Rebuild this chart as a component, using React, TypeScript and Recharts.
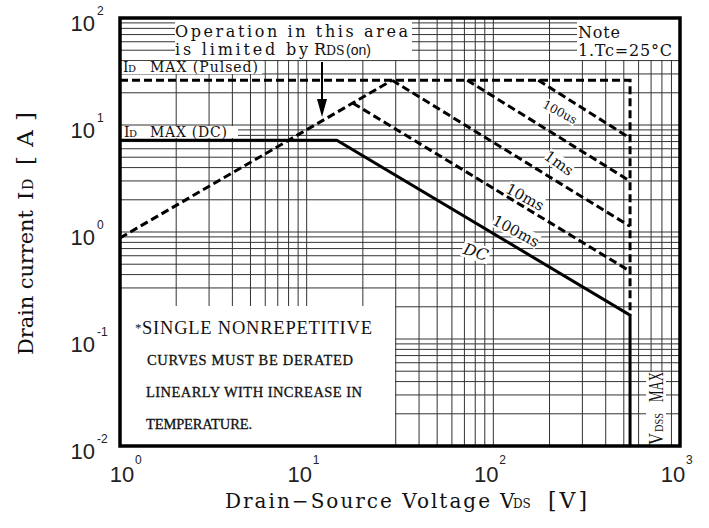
import React from 'react';
import { ComposedChart, Line, XAxis, YAxis, CartesianGrid, ReferenceArea } from 'recharts';

// Grid / tick values (log decades with 2..9 subdivisions)
const gridV = [1, 2, 3, 4, 5, 6, 7, 8, 9, 10, 20, 30, 40, 50, 60, 70, 80, 90, 100, 200, 300, 400, 500, 600, 700, 800, 900, 1000];
const gridI = [0.01, 0.02, 0.03, 0.04, 0.05, 0.06, 0.07, 0.08, 0.09, 0.1, 0.2, 0.3, 0.4, 0.5, 0.6, 0.7, 0.8, 0.9, 1, 2, 3, 4, 5, 6, 7, 8, 9, 10, 20, 30, 40, 50, 60, 70, 80, 90, 100];
const xDecades = [1, 10, 100, 1000];
const xExps = ['0', '1', '2', '3'];
const yDecades = [0.01, 0.1, 1, 10, 100];
const yExps = ['-2', '-1', '0', '1', '2'];

// Series (VDS [V], ID [A])
const pulsedV = [1, 540, 540];
const pulsedI = [26.2, 26.2, 0.167];
const rdsV = [1, 28.7];
const rdsI = [0.88, 26.2];
const us100V = [174, 540];
const us100I = [26.2, 7.54];
const ms1V = [72.4, 540];
const ms1I = [26.2, 2.99];
const ms10V = [28.7, 540];
const ms10I = [26.2, 1.13];
const ms100V = [17.7, 540];
const ms100I = [16.0, 0.43];
const dcV = [1, 14.5, 540, 540];
const dcI = [7.22, 7.22, 0.167, 0.01];

const zip = (v: number[], i: number[]) => v.map((x, k) => ({ v: x, i: i[k] }));

const SERIF = 'DejaVu Serif';
const TSERIF = 'Liberation Serif';
const SANS = 'Liberation Sans';

const XTick = (props: any) => {
  const { x, payload } = props;
  const idx = xDecades.indexOf(payload.value);
  if (idx < 0) return <g />;
  const off = payload.value === 1 ? 2 : -7;
  return (
    <g>
      <text x={x + off} y={482} fontSize={22} fontFamily={SANS} fill="#222" textAnchor="middle">10</text>
      <text x={x + off + 13} y={464} fontSize={12} fontFamily={SANS} fill="#222">{xExps[idx]}</text>
    </g>
  );
};

const YTick = (props: any) => {
  const { y, payload } = props;
  const idx = yDecades.indexOf(payload.value);
  if (idx < 0) return <g />;
  return (
    <g>
      <text x={95} y={y + 13} fontSize={22} fontFamily={SANS} fill="#222" textAnchor="end">10</text>
      <text x={97} y={y - 3} fontSize={12} fontFamily={SANS} fill="#222">{yExps[idx]}</text>
    </g>
  );
};

const CurveLabel = ({ cx, cy, angle, text, size, w, h, italic }: any) => (
  <g transform={`translate(${cx},${cy}) rotate(${angle})`}>
    <rect x={-w / 2} y={-h / 2} width={w} height={h} fill="#fff" />
    <text x={0} y={size * 0.35} textAnchor="middle" fontSize={size} fontFamily={SERIF} fontStyle={italic ? 'italic' : 'normal'} fill="#111">{text}</text>
  </g>
);

const dashed = { stroke: '#000', strokeWidth: 3, strokeDasharray: '8 4', dot: false, activeDot: false, isAnimationActive: false, type: 'linear' as const, dataKey: 'i' };

export default function App() {
  return (
    <div style={{ position: 'absolute', left: 0, top: 0, background: '#fff' }}>
      <ComposedChart width={709} height={528} margin={{ top: 18, right: 29, bottom: 0, left: 0 }}>
        <CartesianGrid stroke="#333" strokeWidth={1} />
        <XAxis type="number" dataKey="v" scale="log" domain={[1, 1000]} ticks={gridV} interval={0} allowDataOverflow height={82} tickLine={false} axisLine={false} tick={<XTick />} />
        <YAxis type="number" dataKey="i" scale="log" domain={[0.01, 100]} ticks={gridI} interval={0} allowDataOverflow width={120} tickLine={false} axisLine={false} tick={<YTick />} />

        <g fill="#fff">
          {/* white annotation boxes */}
          <rect x={175} y={19} width={237} height={41} />
          <rect x={577} y={19} width={102} height={41} />
          <rect x={121} y={61} width={141} height={13} />
          <rect x={121} y={126} width={117} height={12} />
          <rect x={121} y={306} width={274} height={139} />
          <rect x={646} y={372} width={20} height={73} />
        </g>

        <g>
          <CurveLabel cx={560} cy={112} angle={28} text="100us" size={12} w={36} h={13} />
          <CurveLabel cx={559} cy={163} angle={35} text="1ms" size={15} w={30} h={15} />
          <CurveLabel cx={525} cy={197} angle={28} text="10ms" size={15} w={40} h={15} />
          <CurveLabel cx={516} cy={231} angle={28} text="100ms" size={15} w={50} h={15} />
          <CurveLabel cx={476} cy={252} angle={18} text="DC" size={16} w={28} h={17} italic />
        </g>

        <Line {...dashed} data={zip(pulsedV, pulsedI)} />
        <Line {...dashed} data={zip(rdsV, rdsI)} />
        <Line {...dashed} data={zip(us100V, us100I)} />
        <Line {...dashed} data={zip(ms1V, ms1I)} />
        <Line {...dashed} data={zip(ms10V, ms10I)} />
        <Line {...dashed} data={zip(ms100V, ms100I)} />
        <Line type="linear" dataKey="i" data={zip(dcV, dcI)} stroke="#000" strokeWidth={3} dot={false} activeDot={false} isAnimationActive={false} />

        <ReferenceArea x1={1} x2={1000} y1={0.01} y2={100} fill="none" stroke="#000" strokeWidth={3.5} />

        <g fill="#111">
          {/* arrow */}
          <line x1={322} y1={62} x2={322} y2={100} stroke="#000" strokeWidth={2} />
          <path d="M317,99 L327,99 L322,117 Z" fill="#000" />

          <text x={175} y={37} fontSize={16} fontFamily={SERIF} textLength={233} lengthAdjust="spacing">Operation in this area</text>
          <text x={175} y={55} fontSize={16} fontFamily={SERIF} textLength={133} lengthAdjust="spacing">is limited by</text>
          <text x={314} y={55} fontSize={16} fontFamily={SERIF}>R</text>
          <text x={326} y={55} fontSize={12.5} fontFamily={SERIF}>DS</text>
          <text x={346} y={55} fontSize={14} fontFamily={SANS}>(on)</text>

          <text x={578} y={38} fontSize={16} fontFamily={SERIF} textLength={42} lengthAdjust="spacing">Note</text>
          <text x={578} y={56} fontSize={16} fontFamily={SERIF} textLength={94} lengthAdjust="spacing">1.Tc=25°C</text>

          <text x={123} y={72} fontSize={14} fontFamily={SERIF}>I</text>
          <text x={128} y={72} fontSize={10} fontFamily={SERIF}>D</text>
          <text x={150} y={72} fontSize={14} fontFamily={SERIF} textLength={108} lengthAdjust="spacing">MAX (Pulsed)</text>

          <text x={124} y={137} fontSize={14} fontFamily={SERIF}>I</text>
          <text x={129} y={137} fontSize={10} fontFamily={SERIF}>D</text>
          <text x={150} y={137} fontSize={14} fontFamily={SERIF} textLength={77} lengthAdjust="spacing">MAX (DC)</text>

          <text x={135} y={332} fontSize={13} fontFamily={TSERIF}>*</text>
          <text x={142} y={334} fontSize={18.5} fontFamily={TSERIF} textLength={230} lengthAdjust="spacing">SINGLE NONREPETITIVE</text>
          <text x={147} y={365} fontSize={14.5} fontFamily={TSERIF} textLength={206} lengthAdjust="spacing" stroke="#111" strokeWidth={0.3}>CURVES MUST BE DERATED</text>
          <text x={146} y={397} fontSize={14.5} fontFamily={TSERIF} textLength={216} lengthAdjust="spacing" stroke="#111" strokeWidth={0.3}>LINEARLY WITH INCREASE IN</text>
          <text x={146} y={429} fontSize={14.5} fontFamily={TSERIF} textLength={106} lengthAdjust="spacing" stroke="#111" strokeWidth={0.3}>TEMPERATURE.</text>

          <g transform="translate(663,445) rotate(-90)">
            <text x={0} y={0} fontSize={20} fontFamily={TSERIF} textLength={12} lengthAdjust="spacingAndGlyphs">V</text>
            <text x={13} y={0} fontSize={13} fontFamily={TSERIF} textLength={19} lengthAdjust="spacingAndGlyphs">DSS</text>
            <text x={43} y={0} fontSize={20} fontFamily={TSERIF} textLength={30} lengthAdjust="spacingAndGlyphs">MAX</text>
          </g>

          {/* axis titles */}
          <text x={225} y={508} fontSize={20} fontFamily={SERIF} textLength={265} lengthAdjust="spacing">Drain−Source Voltage</text>
          <text x={500} y={508} fontSize={20} fontFamily={SERIF}>V</text>
          <text x={513} y={508} fontSize={12} fontFamily={SERIF}>DS</text>
          <text x={548} y={508} fontSize={22} fontFamily={SERIF} textLength={39} lengthAdjust="spacing">[V]</text>

          <g transform="translate(33,355) rotate(-90)">
            <text x={0} y={0} fontSize={21} fontFamily={SERIF} textLength={145} lengthAdjust="spacing">Drain current</text>
            <text x={155} y={0} fontSize={21} fontFamily={SERIF}>I</text>
            <text x={165} y={0} fontSize={14} fontFamily={SERIF}>D</text>
            <text x={190} y={0} fontSize={23} fontFamily={SERIF} textLength={53} lengthAdjust="spacing">[A]</text>
          </g>
        </g>
      </ComposedChart>
    </div>
  );
}
